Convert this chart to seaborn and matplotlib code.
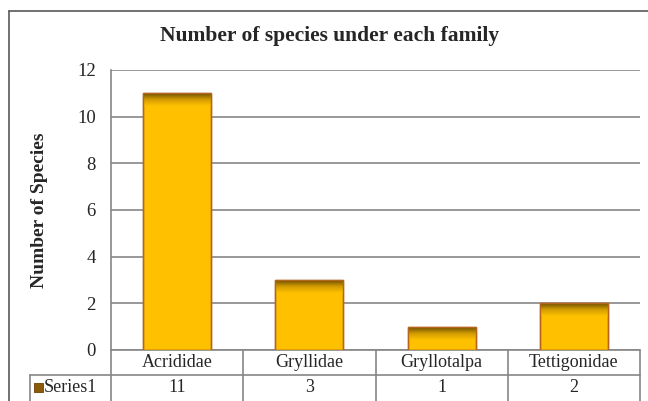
import numpy as np
import matplotlib
matplotlib.use("Agg")
import matplotlib.pyplot as plt
import seaborn as sns
from matplotlib.colors import LinearSegmentedColormap
from matplotlib.patches import Rectangle
from matplotlib.lines import Line2D

families = ["Acrididae", "Gryllidae", "Gryllotalpa", "Tettigonidae"]
counts = [11, 3, 1, 2]
series_name = "Series1"
yticks = [0, 2, 4, 6, 8, 10, 12]
title = "Number of species under each family"
ylabel = "Number of Species"

sns.set_theme(style="white")
plt.rcParams["font.family"] = ["Liberation Serif", "DejaVu Serif"]

W, H = 648, 401
fig = plt.figure(figsize=(W / 100, H / 100), dpi=100)
L, R, T, B = 111, 640, 70, 350
ax = fig.add_axes([L / W, 1 - B / H, (R - L) / W, (B - T) / H])

gold = "#FFC000"
edge = "#B5651D"
grid_c = "#868686"

sns.barplot(x=families, y=counts, color=gold, saturation=1, width=0.515,
            edgecolor=edge, linewidth=1.0, ax=ax, zorder=3)

ax.set_ylim(0, 12)
ax.set_xlim(-0.5, 3.5)
ax.set_yticks(yticks)
ax.set_yticklabels([str(v) for v in yticks], fontsize=13.5)
ax.tick_params(axis="y", length=0, pad=11)
ax.set_xticks([])
ax.set_xlabel("")
ax.set_ylabel(ylabel, fontsize=14, fontweight="bold")
ax.yaxis.set_label_coords((48 - L) / (R - L), 0.5)
ax.yaxis.grid(True, color=grid_c, linewidth=1.2, zorder=0)
ax.set_axisbelow(True)
for s in ["top", "right", "bottom"]:
    ax.spines[s].set_visible(False)
ax.spines["left"].set_color(grid_c)
ax.spines["left"].set_linewidth(1.2)

# top gradient on each bar
cmap = LinearSegmentedColormap.from_list("g", [(0, gold), (0.5, "#D29C00"), (1, "#6E5000")])
grad = np.linspace(0, 1, 64).reshape(-1, 1)
band = 0.55
for p in ax.patches:
    x0 = p.get_x(); w = p.get_width(); h = p.get_height()
    b = min(band, h * 0.7)
    ax.imshow(grad, cmap=cmap, aspect="auto", origin="lower",
              extent=(x0, x0 + w, h - b, h), zorder=3.5, interpolation="bilinear")
    ax.add_patch(Rectangle((x0, 0), w, h, fill=False, edgecolor=edge, linewidth=1.0, zorder=4))
ax.set_xlim(-0.5, 3.5)
ax.set_ylim(0, 12)

fig.text(330 / W, 1 - 36 / H, title, ha="center", va="center",
         fontsize=15.5, fontweight="bold")

# data table
ph = B - T
r1 = -25 / ph
r2 = -60 / ph
xt = ax.get_xaxis_transform()
kw = dict(color=grid_c, linewidth=1.2, clip_on=False)
ax.add_line(Line2D([-0.5, 3.5], [0, 0], transform=xt, **kw))
ax.add_line(Line2D([(30 - L) / (R - L), 1], [r1, r1], transform=ax.transAxes, **kw))
for xb in [-0.5, 0.5, 1.5, 2.5, 3.5]:
    ax.add_line(Line2D([xb, xb], [0, r2], transform=xt, **kw))
ax.add_line(Line2D([(30 - L) / (R - L)] * 2, [r1, r2], transform=ax.transAxes, **kw))

for i, (f, c) in enumerate(zip(families, counts)):
    ax.text(i, -12.5 / ph, f, transform=xt, ha="center", va="center", fontsize=13)
    ax.text(i, -38 / ph, str(c), transform=xt, ha="center", va="center", fontsize=13)

ax.add_patch(Rectangle(((34 - L) / (R - L), (B - 392) / ph), 9 / (R - L), 9 / ph,
                       transform=ax.transAxes, facecolor="#8A5C0A", edgecolor="#6B4300",
                       linewidth=0.6, clip_on=False))
ax.text((44 - L) / (R - L), -38 / ph, series_name, transform=ax.transAxes,
        ha="left", va="center", fontsize=13)

# chart border
fig.add_artist(Line2D([9 / W, 9 / W], [0, 1 - 11 / H], color="#595959", linewidth=1.2,
                      transform=fig.transFigure))
fig.add_artist(Line2D([9 / W, 1], [1 - 11 / H, 1 - 11 / H], color="#595959", linewidth=1.2,
                      transform=fig.transFigure))

fig.savefig("out.png", dpi=100)
